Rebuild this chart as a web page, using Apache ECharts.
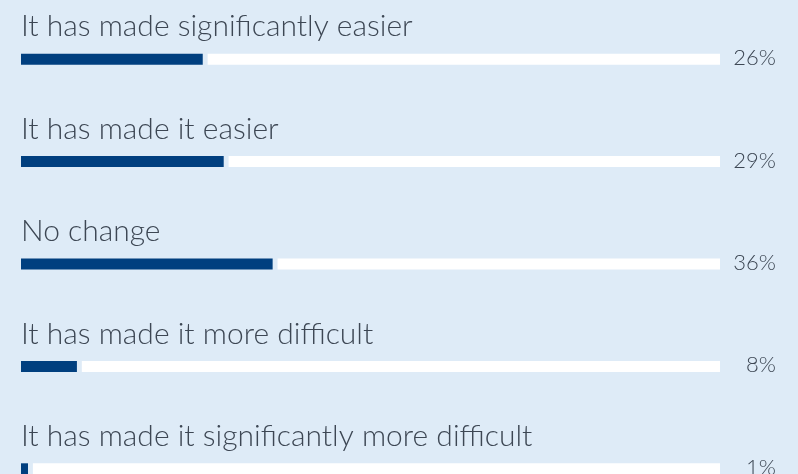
<!DOCTYPE html>
<html>
<head>
<meta charset="utf-8">
<script src="https://cdn.jsdelivr.net/npm/echarts@6/dist/echarts.min.js"></script>
<style>
html,body{margin:0;padding:0;background:#deebf7;}
#c{width:798px;height:474px;}
</style>
</head>
<body>
<div id="c"></div>
<script>
var categories = [
  'It has made significantly easier',
  'It has made it easier',
  'No change',
  'It has made it more difficult',
  'It has made it significantly more difficult'
];
var values = [26, 29, 36, 8, 1];
var GAP = 0.7;

var chart = echarts.init(document.getElementById('c'));
var FONT = 'Lato';
chart.setOption({
  backgroundColor: '#deebf7',
  animation: false,
  grid: {left: 21, right: 78, top: 8, height: 512, outerBoundsMode: 'none', containLabel: false},
  xAxis: {type: 'value', min: 0, max: 100, show: false},
  yAxis: {type: 'category', data: categories, inverse: true, show: false},
  series: [
    {
      type: 'bar', stack: 's', barWidth: 11, data: values,
      itemStyle: {color: '#003f7f'},
      label: {
        show: true, position: [0, -12], formatter: '{b}',
        color: '#3d4754', fontFamily: FONT, fontWeight: 300, fontSize: 30,
        align: 'left', verticalAlign: 'bottom'
      }
    },
    {
      type: 'bar', stack: 's', barWidth: 11,
      data: values.map(function(){return GAP;}),
      itemStyle: {color: 'rgba(0,0,0,0)'}
    },
    {
      type: 'bar', stack: 's', barWidth: 11,
      data: values.map(function(v){return 100 - v - GAP;}),
      itemStyle: {color: '#ffffff'},
      label: {
        show: true, position: ['100%', '50%'], offset: [56, -1],
        formatter: function(p){return values[p.dataIndex] + '%';},
        color: '#3d4754', fontFamily: FONT, fontWeight: 300, fontSize: 22,
        align: 'right', verticalAlign: 'middle'
      }
    }
  ]
});
</script>
</body>
</html>
